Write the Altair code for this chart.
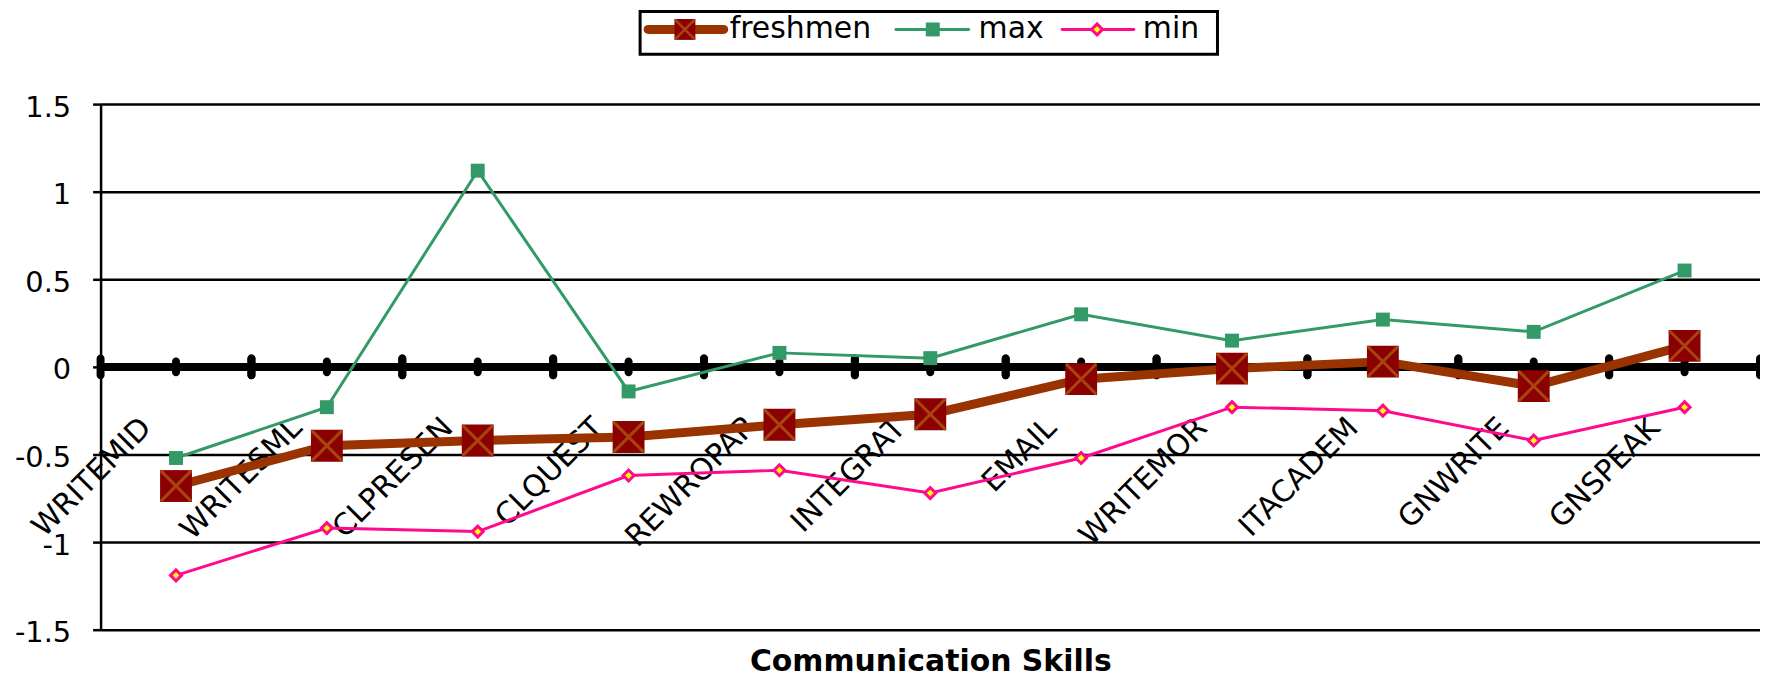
import altair as alt
import pandas as pd

# ---------------- data ----------------
categories = ["WRITEMID", "WRITESML", "CLPRESEN", "CLQUEST", "REWROPAP", "INTEGRAT",
              "EMAIL", "WRITEMOR", "ITACADEM", "GNWRITE", "GNSPEAK"]
freshmen = [-0.68, -0.45, -0.42, -0.40, -0.33, -0.27, -0.07, -0.01, 0.03, -0.11, 0.12]
max_vals = [-0.52, -0.23, 1.12, -0.14, 0.08, 0.05, 0.30, 0.15, 0.27, 0.20, 0.55]
min_vals = [-1.19, -0.92, -0.94, -0.62, -0.59, -0.72, -0.52, -0.23, -0.25, -0.42, -0.23]
series_names = ["freshmen", "max", "min"]
y_ticks = [-1.5, -1, -0.5, 0, 0.5, 1, 1.5]
x_title = "Communication Skills"

# ---------------- style ----------------
FONT = "DejaVu Sans"
W, H = 1667, 528
BROWN = "#993300"
DARKRED = "#8B0000"
GREEN = "#339966"
PINK = "#FF0A8C"
YELLOW = "#FFFF00"
X_PATH = "M-0.95,-0.95L0.95,0.95M0.95,-0.95L-0.95,0.95"

df = pd.DataFrame({"cat": categories, "freshmen": freshmen, "max": max_vals, "min": min_vals})
zero_df = pd.DataFrame({"y": [0]})

x_scale = alt.Scale(type="band", paddingInner=0, paddingOuter=0)
x_axis = alt.Axis(labels=False, ticks=False, domain=False, grid=False,
                  title=x_title, titleFont=FONT, titleFontSize=30, titleFontWeight="bold",
                  titleColor="black", titleY=41, titleBaseline="alphabetic")
y_scale = alt.Scale(domain=[-1.5, 1.5], nice=False, zero=False)
y_axis = alt.Axis(values=y_ticks, labelExpr="toString(datum.value)", labelFont=FONT,
                  labelFontSize=29, labelColor="black", labelPadding=22, labelOffset=3,
                  tickSize=8, tickColor="black", tickWidth=2.5, domainColor="black",
                  domainWidth=2.5, grid=True, gridColor="black", gridWidth=2.5, title=None)


def xenc(**kw):
    return alt.X("cat:N", sort=categories, scale=x_scale, axis=x_axis, **kw)


def yenc(field):
    return alt.Y(field, scale=y_scale, axis=y_axis)


base = alt.Chart(df)

# zero line with tick marks
zero_line = alt.Chart(zero_df).mark_rule(color="black", strokeWidth=8).encode(y=yenc("y:Q"))
ticks_center = base.mark_tick(orient="vertical", color="black", size=19, thickness=8,
                              cornerRadius=4, opacity=1).encode(x=xenc(), y=alt.datum(0))
ticks_left = base.mark_tick(orient="vertical", color="black", size=25, thickness=8,
                            cornerRadius=4, opacity=1).encode(x=xenc(bandPosition=0), y=alt.datum(0))
ticks_right = base.mark_tick(orient="vertical", color="black", size=25, thickness=8,
                             cornerRadius=4, opacity=1).encode(x=xenc(bandPosition=1), y=alt.datum(0))

# category labels, rotated, below the zero line
cat_labels = base.mark_text(angle=315, align="right", baseline="top", dx=-61, dy=4,
                            font=FONT, fontSize=30, color="black").encode(
    x=xenc(), y=alt.datum(0), text="cat:N")

# series
fr_line = base.mark_line(color=BROWN, strokeWidth=9).encode(x=xenc(), y=yenc("freshmen:Q"))
fr_pts = base.mark_point(shape="square", size=1024, filled=True, fill=DARKRED, opacity=1,
                         strokeWidth=0).encode(x=xenc(), y=yenc("freshmen:Q"))
fr_x = base.mark_point(shape=X_PATH, size=1024, filled=False, stroke="#A8450F",
                       strokeWidth=3, opacity=1).encode(x=xenc(), y=yenc("freshmen:Q"))

mx_line = base.mark_line(color=GREEN, strokeWidth=3).encode(x=xenc(), y=yenc("max:Q"))
mx_pts = base.mark_point(shape="square", size=196, filled=True, fill=GREEN, opacity=1,
                         strokeWidth=0).encode(x=xenc(), y=yenc("max:Q"))

mn_line = base.mark_line(color=PINK, strokeWidth=3).encode(x=xenc(), y=yenc("min:Q"))
mn_pts = base.mark_point(shape="diamond", size=121, filled=True, fill=YELLOW, stroke=PINK,
                         strokeWidth=3, opacity=1).encode(x=xenc(), y=yenc("min:Q"))

# legend (drawn above the plot area)
LY = -75


def one(name):
    return alt.Chart(pd.DataFrame({"label": [name]}))


legend_box = one("box").mark_rect(fill="white", stroke="black", strokeWidth=3).encode(
    x=alt.value(542), x2=alt.value(1122), y=alt.value(-93), y2=alt.value(-50))

lg_layers = [legend_box]
lg_specs = [
    (series_names[0], 550, 626, 9, BROWN, 587, 632),
    (series_names[1], 799, 872, 3, GREEN, 836, 882),
    (series_names[2], 966, 1038, 3, PINK, 1001, 1047),
]
for name, x1, x2, sw, col, mxp, tx in lg_specs:
    lg_layers.append(one(name).mark_rule(color=col, strokeWidth=sw, strokeCap="round").encode(
        x=alt.value(x1), x2=alt.value(x2), y=alt.value(LY)))
    if name == series_names[0]:
        lg_layers.append(one(name).mark_point(shape="square", size=441, filled=True, fill=DARKRED,
                                              strokeWidth=0, opacity=1).encode(
            x=alt.value(mxp), y=alt.value(LY)))
        lg_layers.append(one(name).mark_point(shape=X_PATH, size=441, filled=False, stroke="#A8450F",
                                              strokeWidth=2.5, opacity=1).encode(
            x=alt.value(mxp), y=alt.value(LY)))
    elif name == series_names[1]:
        lg_layers.append(one(name).mark_point(shape="square", size=196, filled=True, fill=GREEN,
                                              strokeWidth=0, opacity=1).encode(
            x=alt.value(mxp), y=alt.value(LY)))
    else:
        lg_layers.append(one(name).mark_point(shape="diamond", size=121, filled=True, fill=YELLOW,
                                              stroke=PINK, strokeWidth=3, opacity=1).encode(
            x=alt.value(mxp), y=alt.value(LY)))
    lg_layers.append(one(name).mark_text(align="left", baseline="middle", font=FONT, fontSize=30,
                                         color="black").encode(
        x=alt.value(tx), y=alt.value(LY), text="label:N"))

chart = alt.layer(
    zero_line, ticks_left, ticks_right, ticks_center, cat_labels,
    fr_line, fr_pts, fr_x, mx_line, mx_pts, mn_line, mn_pts,
    *lg_layers,
).properties(
    width=W, height=H,
    padding={"left": 93, "top": 95, "right": 0, "bottom": 49},
    autosize=alt.AutoSizeParams(type="none"),
    background="white",
).configure_view(stroke=None)

chart.save("out.html", embed_options={"renderer": "svg", "actions": False})
